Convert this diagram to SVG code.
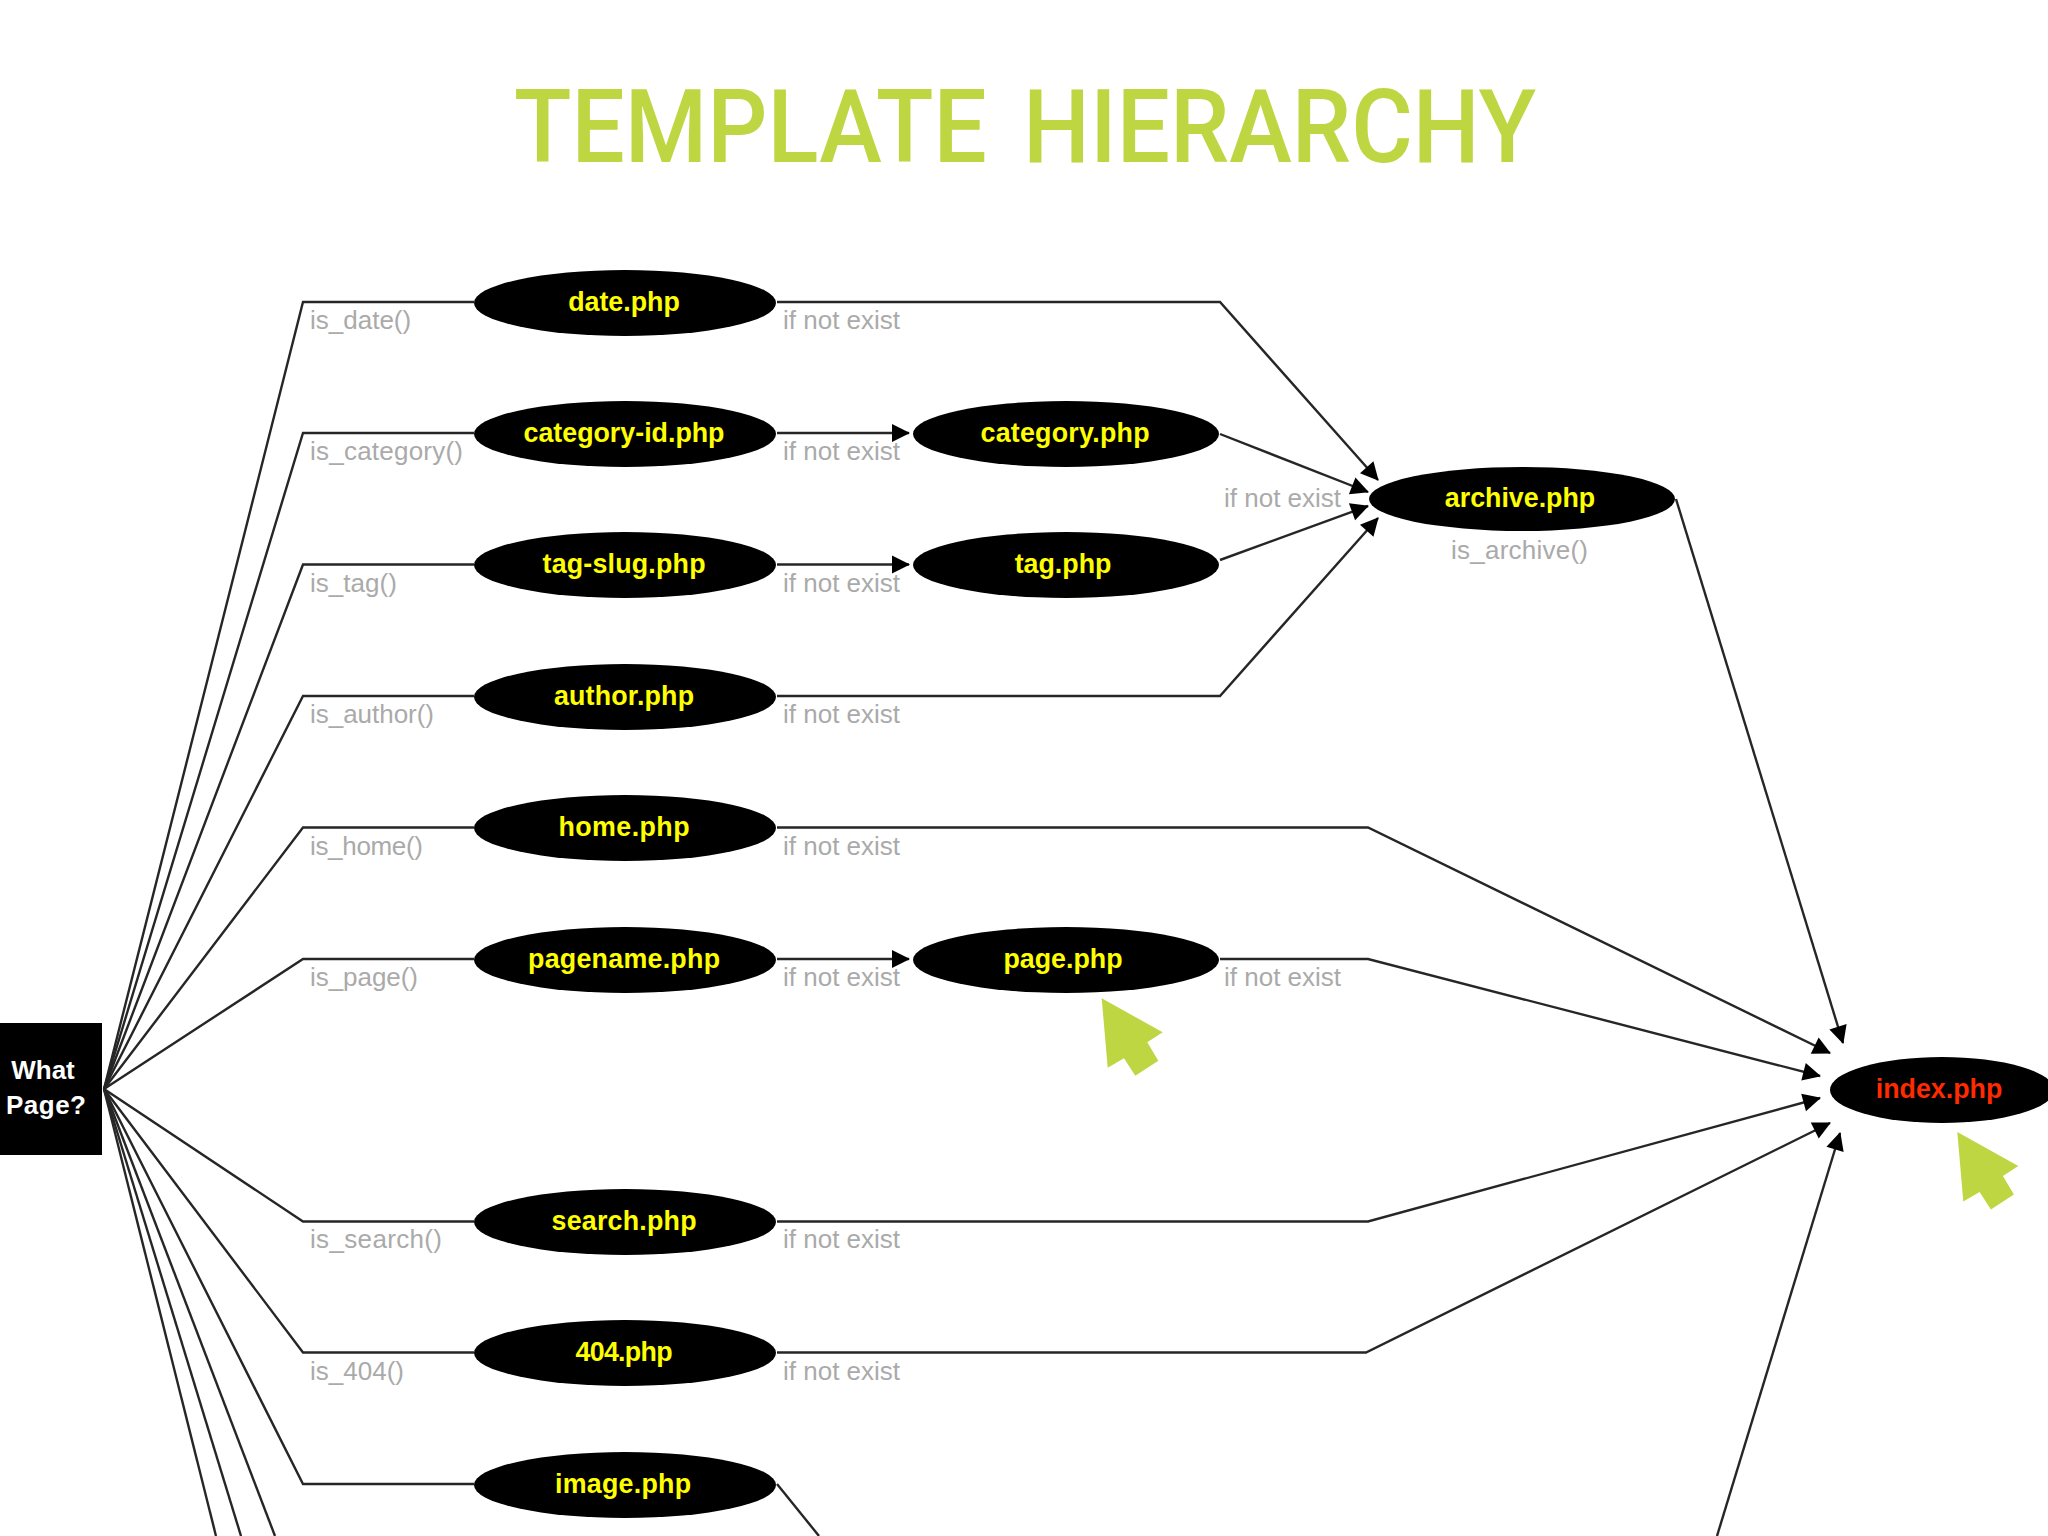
<svg xmlns="http://www.w3.org/2000/svg" width="2048" height="1536" viewBox="0 0 2048 1536">
<style>
.c{fill:none;stroke:#262626;stroke-width:2.4}
.a{marker-end:url(#arrow)}
.e{fill:#000}
.n{font:bold 26.8px "Liberation Sans",Arial,sans-serif;fill:#ffff00;text-anchor:middle}
.l{font:26px "Liberation Sans",Arial,sans-serif;fill:#aaaaaa}
.w{font:bold 26px "Liberation Sans",Arial,sans-serif;fill:#fff;text-anchor:middle}
.cur{fill:#bed642}
</style>
<defs>
<marker id="arrow" markerUnits="userSpaceOnUse" markerWidth="20" markerHeight="20" refX="17" refY="9" orient="auto" overflow="visible"><path d="M0 0L18 9L0 18z" fill="#000"/></marker>
<polygon id="cursor" class="cur" points="1101.7,998.3 1162.7,1032.3 1147.3,1042.3 1158.3,1060.7 1135.3,1075.7 1124,1058.3 1107.7,1067.7"/>
</defs>
<rect width="2048" height="1536" fill="#fff"/>
<text x="1025" y="162" textLength="1022" lengthAdjust="spacingAndGlyphs" text-anchor="middle" font-family="Roboto,'Liberation Sans',sans-serif" font-weight="500" font-size="102" word-spacing="14" fill="#bed642">TEMPLATE HIERARCHY</text>
<g id="connectors">
<path class="c" d="M104 1089L303 302H474"/>
<path class="c" d="M104 1089L303 433H474"/>
<path class="c" d="M104 1089L303 564.500H474"/>
<path class="c" d="M104 1089L303 696H474"/>
<path class="c" d="M104 1089L303 827.500H474"/>
<path class="c" d="M104 1089L303 959H474"/>
<path class="c" d="M104 1089L303 1221.500H474"/>
<path class="c" d="M104 1089L303 1352.500H474"/>
<path class="c" d="M104 1089L303 1484H474"/>
<path class="c" d="M104 1089L275 1536"/>
<path class="c" d="M104 1089L241 1536"/>
<path class="c" d="M104 1089L216 1536"/>
<path class="c a" d="M777 302H1220L1378 480"/>
<path class="c a" d="M777 433H909"/>
<path class="c a" d="M1220 434L1368 492"/>
<path class="c a" d="M777 564.500H909"/>
<path class="c a" d="M1220 560L1368 506"/>
<path class="c a" d="M777 696H1220L1378 518"/>
<path class="c a" d="M1676 499L1843 1043"/>
<path class="c a" d="M777 827.500H1368L1830 1053"/>
<path class="c a" d="M777 959H909"/>
<path class="c a" d="M1220 959H1368L1820 1076"/>
<path class="c a" d="M777 1221.500H1368L1820 1098"/>
<path class="c a" d="M777 1352.500H1366L1830 1123"/>
<path class="c a" d="M1717 1536L1840 1133"/>
<path class="c" d="M777 1484L819 1536"/>
</g>
<g id="labels">
<text class="l" x="310" y="329">is_date()</text>
<text class="l" x="310" y="460" textLength="153">is_category()</text>
<text class="l" x="310" y="592" textLength="87">is_tag()</text>
<text class="l" x="310" y="723" textLength="124">is_author()</text>
<text class="l" x="310" y="855" textLength="113">is_home()</text>
<text class="l" x="310" y="986" textLength="108">is_page()</text>
<text class="l" x="310" y="1248" textLength="132">is_search()</text>
<text class="l" x="310" y="1380" textLength="94">is_404()</text>
<text class="l" x="1451" y="559" textLength="137">is_archive()</text>
<text class="l" x="783" y="329">if not exist</text>
<text class="l" x="783" y="460">if not exist</text>
<text class="l" x="783" y="592">if not exist</text>
<text class="l" x="783" y="723">if not exist</text>
<text class="l" x="783" y="855">if not exist</text>
<text class="l" x="783" y="986">if not exist</text>
<text class="l" x="783" y="1248">if not exist</text>
<text class="l" x="783" y="1380">if not exist</text>
<text class="l" x="1224" y="507">if not exist</text>
<text class="l" x="1224" y="986">if not exist</text>
</g>
<g id="what-page"><rect class="e" x="0" y="1023" width="102" height="132"/><text class="w" x="43" y="1079">What</text><text class="w" x="46" y="1114" textLength="80">Page?</text></g>
<g id="date"><ellipse class="e" cx="625" cy="303" rx="151" ry="33"/><text class="n" x="624" y="311">date.php</text></g>
<g id="category-id"><ellipse class="e" cx="625" cy="434" rx="151" ry="33"/><text class="n" x="624" y="442">category-id.php</text></g>
<g id="category"><ellipse class="e" cx="1066" cy="434" rx="153" ry="33"/><text class="n" x="1065" y="442" textLength="169">category.php</text></g>
<g id="tag-slug"><ellipse class="e" cx="625" cy="565" rx="151" ry="33"/><text class="n" x="624" y="573" textLength="163">tag-slug.php</text></g>
<g id="tag"><ellipse class="e" cx="1066" cy="565" rx="153" ry="33"/><text class="n" x="1063" y="573">tag.php</text></g>
<g id="author"><ellipse class="e" cx="625" cy="697" rx="151" ry="33"/><text class="n" x="624" y="705" textLength="140">author.php</text></g>
<g id="home"><ellipse class="e" cx="625" cy="828" rx="151" ry="33"/><text class="n" x="624" y="836" textLength="131">home.php</text></g>
<g id="pagename"><ellipse class="e" cx="625" cy="960" rx="151" ry="33"/><text class="n" x="624" y="968" textLength="192">pagename.php</text></g>
<g id="page"><ellipse class="e" cx="1066" cy="960" rx="153" ry="33"/><text class="n" x="1063" y="968">page.php</text></g>
<g id="search"><ellipse class="e" cx="625" cy="1222" rx="151" ry="33"/><text class="n" x="624" y="1230" textLength="145">search.php</text></g>
<g id="n404"><ellipse class="e" cx="625" cy="1353" rx="151" ry="33"/><text class="n" x="624" y="1361" textLength="97">404.php</text></g>
<g id="image"><ellipse class="e" cx="625" cy="1485" rx="151" ry="33"/><text class="n" x="623" y="1493" textLength="136">image.php</text></g>
<g id="archive"><ellipse class="e" cx="1522" cy="499" rx="153" ry="32"/><text class="n" x="1520" y="507">archive.php</text></g>
<g id="index"><ellipse class="e" cx="1942" cy="1090" rx="112" ry="33"/><text class="n" x="1939" y="1098" style="fill:#ff2a00">index.php</text></g>
<g id="cursors"><use href="#cursor"/><use href="#cursor" x="855.6" y="133.7"/></g>
</svg>
